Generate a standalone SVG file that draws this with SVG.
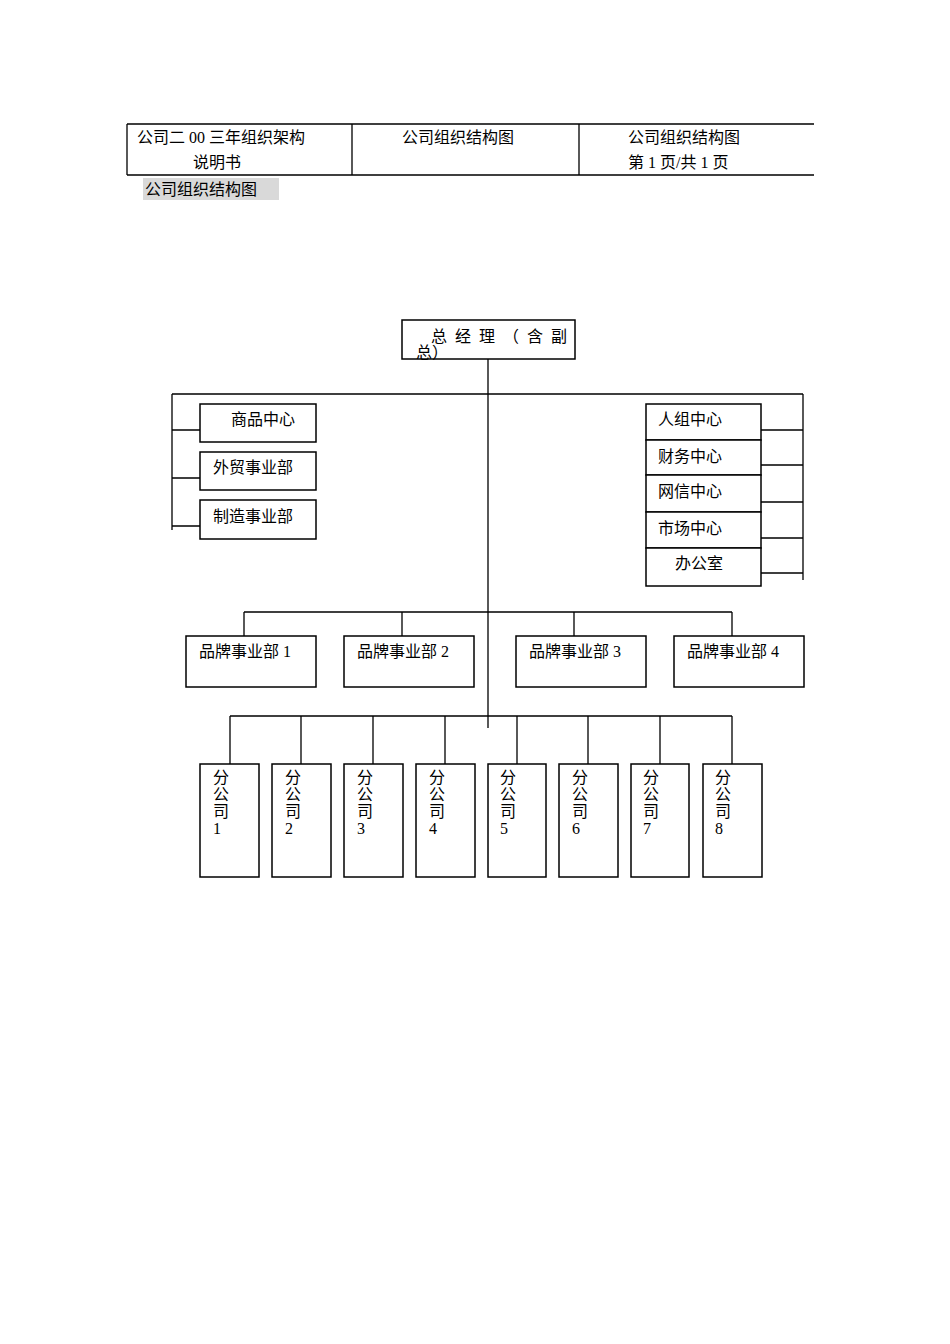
<svg xmlns="http://www.w3.org/2000/svg" width="950" height="1344" viewBox="0 0 950 1344">
<style>
text{font-family:"Liberation Serif","Noto Sans CJK SC",serif;font-size:16px;fill:#000}
.b{fill:#fff;stroke:#000;stroke-width:1.5}
.l{stroke:#000;stroke-width:1.3;fill:none}
</style>
<rect width="950" height="1344" fill="#fff"/>
<g id="header">
<path class="l" d="M127 124H814M127 175H814M127 124V175M352 124V175M579 124V175"/>
<text x="137" y="143">公司二 00 三年组织架构</text>
<text x="193" y="168">说明书</text>
<text x="402" y="143">公司组织结构图</text>
<text x="628" y="143">公司组织结构图</text>
<text x="628" y="168">第 1 页/共 1 页</text>
<rect x="143" y="178" width="136" height="22" fill="#d9d9d9"/>
<text x="145" y="195">公司组织结构图</text>
</g>
<g id="connectors">
<path class="l" d="M488 359V728M172 394H803M172 394V530M172 430H200M172 478H200M172 526H200M803 394V580M761 430H803M761 465H803M761 502H803M761 538H803M761 573H803"/>
<path class="l" d="M244 612H732M244 612V636M402 612V636M574 612V636M732 612V636"/>
<path class="l" d="M230 716H732M230 716V764M301 716V764M373 716V764M445 716V764M517 716V764M588 716V764M660 716V764M732 716V764"/>
</g>
<g id="gm"><rect class="b" x="402" y="320" width="173" height="39"/><text x="431" y="342" letter-spacing="8">总经理（含副</text><text x="416" y="358" font-size="10">总）</text></g>
<g id="n1"><rect class="b" x="200" y="404" width="116" height="38"/><text x="231" y="425">商品中心</text></g>
<g id="n2"><rect class="b" x="200" y="452" width="116" height="38"/><text x="213" y="473">外贸事业部</text></g>
<g id="n3"><rect class="b" x="200" y="500" width="116" height="39"/><text x="213" y="522">制造事业部</text></g>
<g id="r1"><rect class="b" x="646" y="404" width="115" height="36"/><text x="658" y="425">人组中心</text></g>
<g id="r2"><rect class="b" x="646" y="440" width="115" height="35"/><text x="658" y="462">财务中心</text></g>
<g id="r3"><rect class="b" x="646" y="475" width="115" height="37"/><text x="658" y="497">网信中心</text></g>
<g id="r4"><rect class="b" x="646" y="512" width="115" height="36"/><text x="658" y="534">市场中心</text></g>
<g id="r5"><rect class="b" x="646" y="548" width="115" height="38"/><text x="675" y="569">办公室</text></g>
<g id="p1"><rect class="b" x="186" y="636" width="130" height="51"/><text x="199" y="657">品牌事业部 1</text></g>
<g id="p2"><rect class="b" x="344" y="636" width="130" height="51"/><text x="357" y="657">品牌事业部 2</text></g>
<g id="p3"><rect class="b" x="516" y="636" width="130" height="51"/><text x="529" y="657">品牌事业部 3</text></g>
<g id="p4"><rect class="b" x="674" y="636" width="130" height="51"/><text x="687" y="657">品牌事业部 4</text></g>
<g id="c1"><rect class="b" x="200" y="764" width="59" height="113"/><text x="213" y="783">分</text><text x="213" y="800">公</text><text x="213" y="817">司</text><text x="213" y="834">1</text></g>
<g id="c2"><rect class="b" x="272" y="764" width="59" height="113"/><text x="285" y="783">分</text><text x="285" y="800">公</text><text x="285" y="817">司</text><text x="285" y="834">2</text></g>
<g id="c3"><rect class="b" x="344" y="764" width="59" height="113"/><text x="357" y="783">分</text><text x="357" y="800">公</text><text x="357" y="817">司</text><text x="357" y="834">3</text></g>
<g id="c4"><rect class="b" x="416" y="764" width="59" height="113"/><text x="429" y="783">分</text><text x="429" y="800">公</text><text x="429" y="817">司</text><text x="429" y="834">4</text></g>
<g id="c5"><rect class="b" x="488" y="764" width="58" height="113"/><text x="500" y="783">分</text><text x="500" y="800">公</text><text x="500" y="817">司</text><text x="500" y="834">5</text></g>
<g id="c6"><rect class="b" x="559" y="764" width="59" height="113"/><text x="572" y="783">分</text><text x="572" y="800">公</text><text x="572" y="817">司</text><text x="572" y="834">6</text></g>
<g id="c7"><rect class="b" x="631" y="764" width="58" height="113"/><text x="643" y="783">分</text><text x="643" y="800">公</text><text x="643" y="817">司</text><text x="643" y="834">7</text></g>
<g id="c8"><rect class="b" x="703" y="764" width="59" height="113"/><text x="715" y="783">分</text><text x="715" y="800">公</text><text x="715" y="817">司</text><text x="715" y="834">8</text></g>
</svg>
